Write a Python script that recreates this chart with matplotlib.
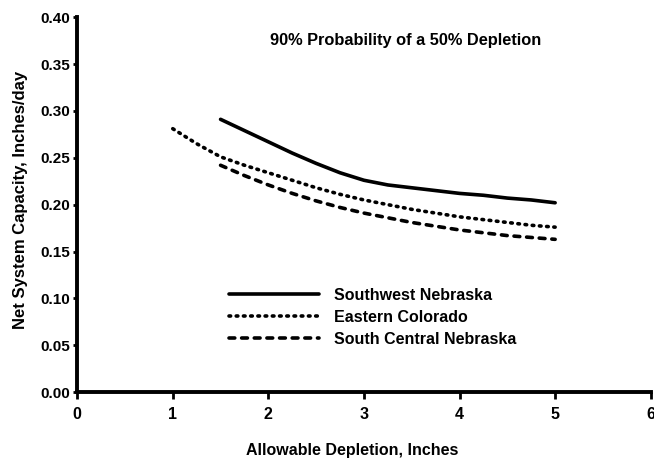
#!/usr/bin/env python3
"""Net system capacity vs allowable depletion"""

import matplotlib
matplotlib.use('Agg')
import matplotlib.pyplot as plt

depl_sw = [1.5, 1.75, 2.0, 2.25, 2.5, 2.75, 3.0, 3.25, 3.5, 3.75, 4.0, 4.25,
           4.5, 4.75, 5.0]
cap_sw = [0.291, 0.279, 0.267, 0.255, 0.244, 0.234, 0.226, 0.221, 0.218,
          0.215, 0.212, 0.210, 0.207, 0.205, 0.202]

depl_ec = [1.0, 1.25, 1.5, 1.75, 2.0, 2.25, 2.5, 2.75, 3.0, 3.25, 3.5, 3.75,
           4.0, 4.25, 4.5, 4.75, 5.0]
cap_ec = [0.281, 0.265, 0.251, 0.242, 0.234, 0.226, 0.218, 0.211, 0.205,
          0.200, 0.195, 0.191, 0.187, 0.184, 0.181, 0.178, 0.176]

depl_sc = [1.5, 1.75, 2.0, 2.25, 2.5, 2.75, 3.0, 3.25, 3.5, 3.75, 4.0, 4.25,
           4.5, 4.75, 5.0]
cap_sc = [0.242, 0.231, 0.221, 0.212, 0.204, 0.197, 0.191, 0.186, 0.181,
          0.177, 0.173, 0.170, 0.167, 0.165, 0.163]

labels = ['Southwest Nebraska', 'Eastern Colorado', 'South Central Nebraska']
xticks = [0, 1, 2, 3, 4, 5, 6]
yticks = [0.00, 0.05, 0.10, 0.15, 0.20, 0.25, 0.30, 0.35, 0.40]

##########################################################
def main():
    plt.rcParams['font.family'] = ['Liberation Sans', 'DejaVu Sans']
    plt.rcParams['font.weight'] = 'bold'
    fig = plt.figure(figsize=(6.54, 4.63), dpi=100)
    ax = fig.add_axes([0.118, 0.153, 0.877, 0.81])

    lw = 2.6
    ax.plot(depl_sw, cap_sw, color='k', lw=lw, solid_capstyle='round',
            solid_joinstyle='round', label=labels[0])
    ax.plot(depl_ec, cap_ec, color='k', lw=lw, dashes=(0.45, 1.55),
            dash_capstyle='round', label=labels[1])
    ax.plot(depl_sc, cap_sc, color='k', lw=lw, dashes=(1.6, 1.9),
            dash_capstyle='round', label=labels[2])

    ax.set_xlim(0, 6)
    ax.set_ylim(0, 0.40)
    ax.set_xticks(xticks)
    ax.set_xticklabels([str(t) for t in xticks], fontsize=11.5, fontweight='bold')
    ax.set_yticks(yticks)
    ax.set_yticklabels(['{:.2f}'.format(t) for t in yticks], fontsize=11,
                       fontweight='bold')
    ax.tick_params(axis='x', direction='out', width=2, length=5, pad=6)
    ax.tick_params(axis='y', direction='out', width=2, length=3, pad=2)

    for s in ['top', 'right']:
        ax.spines[s].set_visible(False)
    for s in ['left', 'bottom']:
        ax.spines[s].set_linewidth(2.8)

    ax.set_xlabel('Allowable Depletion, Inches', fontsize=11.5, fontweight='bold',
                  va='center')
    ax.xaxis.set_label_coords(0.479, -0.155)
    ax.set_ylabel('Net System Capacity, Inches/day', fontsize=12,
                  fontweight='bold', va='center')
    ax.yaxis.set_label_coords(-0.099, 0.512)

    ax.text(0.573, 0.939, '90% Probability of a 50% Depletion',
            transform=ax.transAxes, fontsize=11.8, fontweight='bold',
            ha='center', va='center')

    ax.legend(loc='center left', bbox_to_anchor=(0.265, 0.2), frameon=False,
              fontsize=11.5, handlelength=5.6, handletextpad=0.95,
              labelspacing=0.44, borderpad=0, borderaxespad=0)

    fig.savefig('out.png', dpi=100)

##########################################################
if __name__ == "__main__":
    main()
